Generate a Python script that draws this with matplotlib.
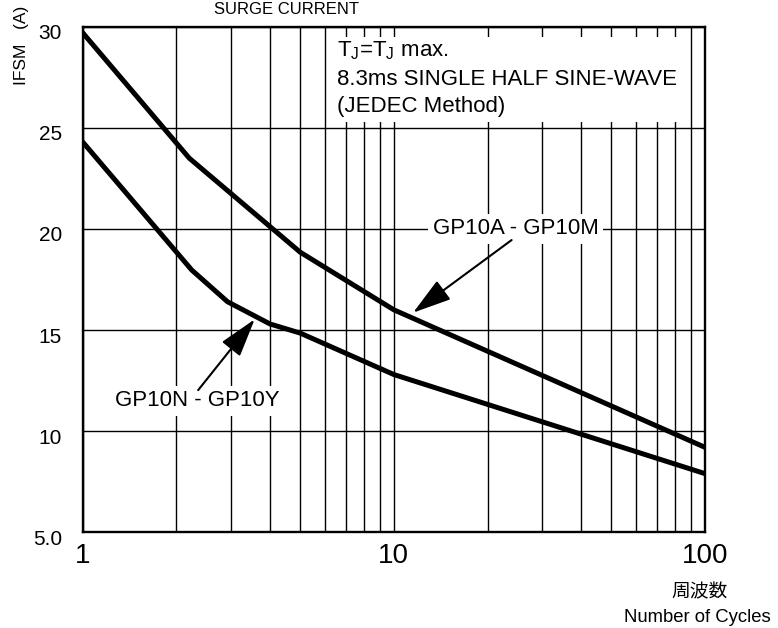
import matplotlib
matplotlib.use('Agg')
import matplotlib.pyplot as plt
import matplotlib.transforms as mtransforms
from matplotlib.ticker import LogLocator, NullFormatter
from matplotlib.patches import Rectangle

plt.rcParams['font.family'] = ['Liberation Sans', 'DejaVu Sans']
plt.rcParams['mathtext.default'] = 'regular'

# GP10A - GP10M curve
cycles_a = [1, 2.2, 5, 10, 100]
ifsm_a = [29.7, 23.5, 18.85, 16.0, 9.2]

# GP10N - GP10Y curve
cycles_n = [1, 2.24, 2.92, 4.0, 5.0, 10, 100]
ifsm_n = [24.3, 17.97, 16.4, 15.3, 14.85, 12.8, 7.9]

x_ticks = [1, 10, 100]
x_labels = ['1', '10', '100']
y_ticks = [5, 10, 15, 20, 25, 30]
y_labels = ['5.0', '10', '15', '20', '25', '30']

fig = plt.figure(figsize=(7.78, 6.28), dpi=100)
ax = fig.add_axes([0.1063, 0.1524, 0.7999, 0.8051])

ax.plot(cycles_a, ifsm_a, color='k', lw=3.6, solid_capstyle='round',
        solid_joinstyle='round', zorder=4)
ax.plot(cycles_n, ifsm_n, color='k', lw=3.6, solid_capstyle='round',
        solid_joinstyle='round', zorder=4)

ax.set_xscale('log')
ax.set_xlim(1, 100)
ax.set_ylim(5, 30)
ax.set_xticks(x_ticks)
ax.set_xticklabels(x_labels, fontsize=20)
ax.xaxis.set_minor_locator(LogLocator(base=10, subs=range(2, 10)))
ax.xaxis.set_minor_formatter(NullFormatter())
ax.set_yticks(y_ticks)
ax.set_yticklabels(y_labels, fontsize=15)
ax.tick_params(which='both', length=0)
ax.tick_params(axis='x', pad=8)
ax.tick_params(axis='y', pad=15)
ax.grid(True, which='both', axis='x', color='k', lw=1.0, zorder=1)
ax.grid(True, which='major', axis='y', color='k', lw=1.0, zorder=1)
ax.set_axisbelow(True)
for sp in ax.spines.values():
    sp.set_linewidth(1.7)

# y labels sit a little below their grid lines in the original
off = mtransforms.ScaledTranslation(0, -0.05, fig.dpi_scale_trans)
for lbl in ax.get_yticklabels():
    lbl.set_transform(lbl.get_transform() + off)

# condition box
ax.add_patch(Rectangle((0.402, 0.8115), 0.571, 0.168, transform=ax.transAxes,
                       facecolor='white', edgecolor='none', zorder=2))
ax.text(0.409, 0.9407, 'T$_J$=T$_J$ max.', transform=ax.transAxes,
        fontsize=16, va='baseline', zorder=3)
ax.text(0.409, 0.8847, '8.3ms SINGLE HALF SINE-WAVE', transform=ax.transAxes,
        fontsize=16, va='baseline', zorder=3)
ax.text(0.409, 0.8313, '(JEDEC Method)', transform=ax.transAxes,
        fontsize=16, va='baseline', zorder=3)

# curve labels with arrows
box = dict(facecolor='white', edgecolor='none', pad=3)
ax.text(24.6, 20.0, 'GP10A - GP10M', fontsize=16, ha='center', va='center',
        bbox=box, zorder=3)
ax.text(2.33, 11.5, 'GP10N - GP10Y', fontsize=16, ha='center', va='center',
        bbox=box, zorder=3)
arrow = dict(arrowstyle='-|>,head_length=0.8,head_width=0.24', color='k',
             lw=1.5, shrinkA=0, shrinkB=0, mutation_scale=30)
ax.annotate('', xy=(11.53, 15.86), xytext=(23.9, 19.45), arrowprops=arrow,
            zorder=5)
ax.annotate('', xy=(3.57, 15.53), xytext=(2.35, 12.03), arrowprops=arrow,
            zorder=5)

fig.text(0.3683, 0.977, 'SURGE CURRENT', fontsize=12, ha='center',
         va='baseline')
fig.text(0.0276, 0.928, 'IFSM   (A)', fontsize=12.5, rotation=90,
         ha='center', va='center')
fig.text(0.8997, 0.057, '周波数', fontsize=13.5, ha='center', va='center',
         family=['Noto Sans CJK JP', 'DejaVu Sans'])
fig.text(0.8959, 0.017, 'Number of Cycles', fontsize=13.3, ha='center',
         va='center')

fig.savefig('out.png', dpi=100)
